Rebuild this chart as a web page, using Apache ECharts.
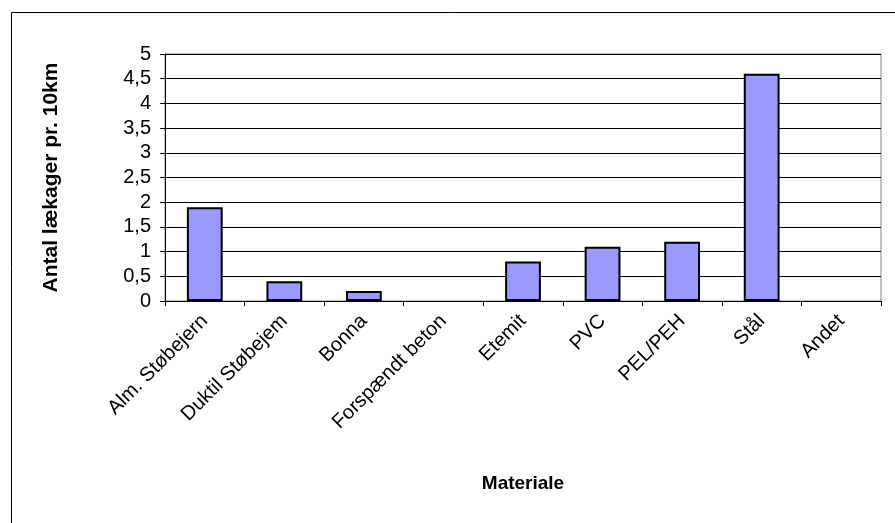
<!DOCTYPE html>
<html>
<head>
<meta charset="utf-8">
<script src="https://cdn.jsdelivr.net/npm/echarts@6/dist/echarts.min.js"></script>
<style>
  html, body { margin: 0; padding: 0; background: #fff; }
  #chart { width: 895px; height: 523px; }
</style>
</head>
<body>
<div id="chart"></div>
<script>
// materialer og lækager pr. 10 km
const materialer = ['Alm. Støbejern', 'Duktil Støbejem', 'Bonna', 'Forspændt beton', 'Etemit', 'PVC', 'PEL/PEH', 'Stål', 'Andet'];
const laekager = [1.9, 0.4, 0.2, 0, 0.8, 1.1, 1.2, 4.6, 0];

const font = '"Liberation Sans", Arial, sans-serif';
const chart = echarts.init(document.getElementById('chart'));

const option = {
  backgroundColor: '#fff',
  animation: false,
  graphic: [{
    // ydre ramme (beskåret i højre og bund)
    type: 'rect',
    shape: { x: 11.5, y: 12.5, width: 1000, height: 1000 },
    style: { fill: 'none', stroke: '#000', lineWidth: 1 }
  }],
  grid: {
    left: 165, right: 14, top: 54, bottom: 222,
    show: true, borderColor: '#808080', borderWidth: 1
  },
  xAxis: {
    type: 'category',
    data: materialer,
    name: 'Materiale',
    nameLocation: 'middle',
    nameGap: 173,
    nameTextStyle: { fontFamily: font, fontSize: 19, fontWeight: 'bold', color: '#000' },
    axisLine: { lineStyle: { color: '#000', width: 1 } },
    axisTick: { show: true, length: 5, lineStyle: { color: '#000' } },
    axisLabel: { rotate: 45, margin: 17, fontFamily: font, fontSize: 20, color: '#000' }
  },
  yAxis: {
    type: 'value',
    min: 0, max: 5, interval: 0.5,
    name: 'Antal lækager pr. 10km',
    nameLocation: 'middle',
    nameGap: 103,
    nameTextStyle: { fontFamily: font, fontSize: 21, fontWeight: 'bold', color: '#000' },
    axisLine: { show: true, lineStyle: { color: '#000', width: 1 } },
    axisTick: { show: true, length: 5, lineStyle: { color: '#000' } },
    axisLabel: {
      margin: 14, fontFamily: font, fontSize: 20, color: '#000',
      formatter: v => String(v).replace('.', ',')
    },
    splitLine: { lineStyle: { color: '#000', width: 1 } }
  },
  series: [{
    type: 'bar',
    // nul-søjler tegnes uden kant
    data: laekager.map(v => v === 0 ? { value: v, itemStyle: { borderWidth: 0 } } : v),
    barWidth: '45%',
    itemStyle: { color: '#9999ff', borderColor: '#000', borderWidth: 2 }
  }]
};

chart.setOption(option);
</script>
</body>
</html>
